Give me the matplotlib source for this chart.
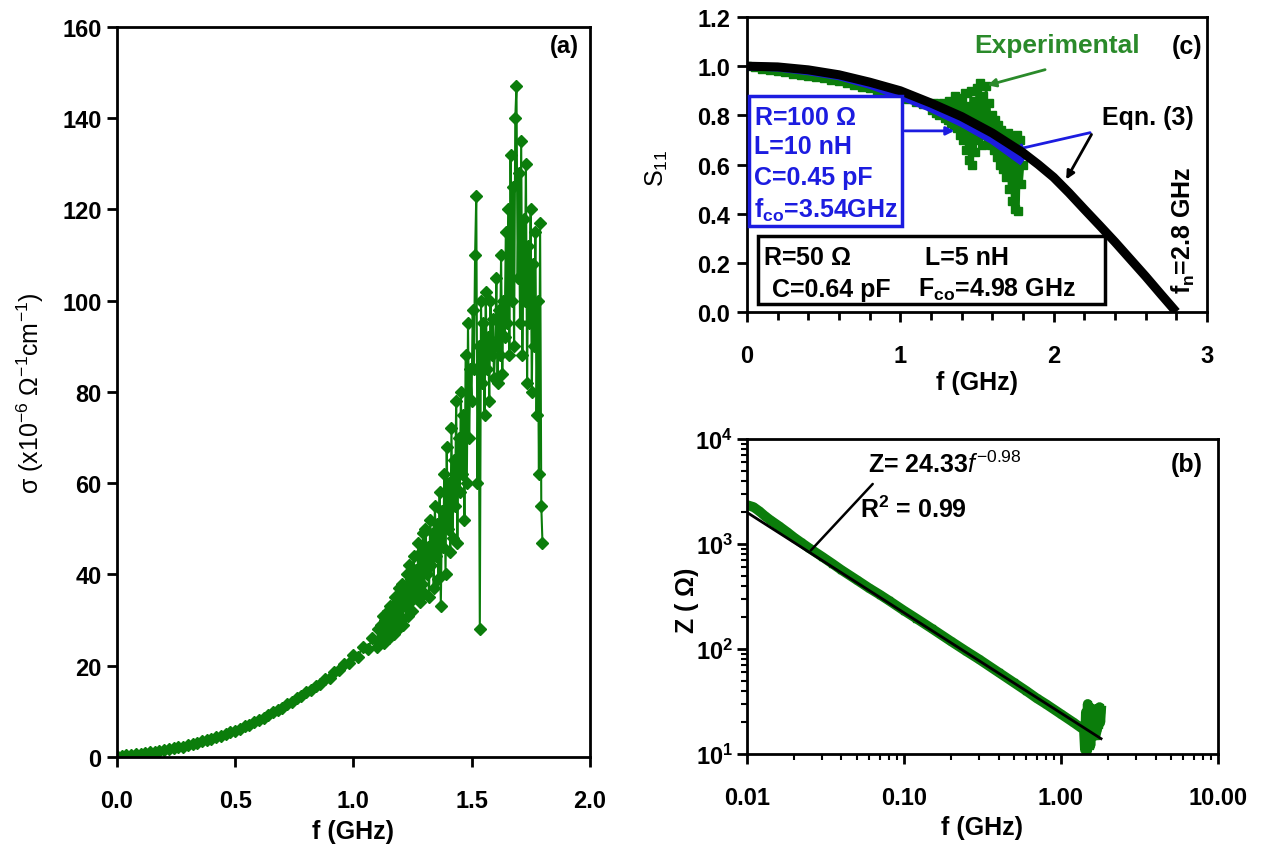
import numpy as np
import matplotlib
matplotlib.use('Agg')
import matplotlib.pyplot as plt
from matplotlib.patches import Rectangle

plt.rcParams['font.family'] = ['Liberation Sans', 'DejaVu Sans']
plt.rcParams['mathtext.fontset'] = 'custom'
plt.rcParams['mathtext.rm'] = 'Liberation Sans'
plt.rcParams['mathtext.it'] = 'Liberation Sans:italic'
plt.rcParams['mathtext.bf'] = 'Liberation Sans:bold'
plt.rcParams['mathtext.default'] = 'regular'

# ---- (a) conductivity vs frequency ----
# smooth part, 0.00-1.08 GHz (0.02 GHz grid)
sig_lo = [0.3, 0.3, 0.4, 0.5, 0.6, 0.7, 0.8, 1.0, 1.1, 1.3,
          1.5, 1.7, 1.9, 2.1, 2.3, 2.6, 2.8, 3.1, 3.4, 3.7,
          4.0, 4.3, 4.7, 5.0, 5.4, 5.8, 6.2, 6.7, 7.1, 7.6,
          8.1, 8.6, 9.2, 9.8, 10.3, 10.8, 11.6, 12.0, 12.9, 13.3,
          14.2, 14.6, 15.6, 16.0, 17.1, 17.4, 18.7, 19.0, 20.4, 20.6,
          22.3, 22.0, 24.2, 23.6, 26.0]
# noisy part, 1.100-1.800 GHz (0.005 GHz grid)
sig_hi = [24, 28, 25, 29, 26, 31, 25, 30, 27, 32,
          26, 33, 28, 31, 27, 35, 29, 34, 28, 37,
          30, 38, 29, 36, 33, 40, 31, 42, 34, 39,
          32, 44, 35, 41, 37, 47, 34, 45, 38, 49,
          36, 50, 40, 46, 35, 52, 42, 49, 37, 55,
          44, 51, 39, 58, 33, 54, 46, 62, 40, 68,
          50, 60, 45, 72, 48, 65, 55, 78, 47, 70,
          58, 80, 62, 75, 52, 88, 60, 95, 70, 85,
          78, 98, 85, 110, 123, 60, 90, 28, 100, 82,
          95, 75, 102, 85, 92, 78, 100, 88, 96, 83,
          90, 105, 82, 98, 88, 110, 84, 100, 92, 115,
          95, 120, 88, 132, 100, 125, 90, 140, 147, 105,
          128, 95, 135, 88, 118, 100, 130, 82, 112, 95,
          120, 80, 108, 90, 115, 75, 100, 62, 117, 55,
          47]
f_a = np.concatenate([np.linspace(0, 1.08, len(sig_lo)),
                      np.linspace(1.10, 1.80, len(sig_hi))])
sig_a = np.array(sig_lo + sig_hi)

# ---- (c) S11 ----
s11_lo = [1.00, 0.995, 0.99, 0.985, 0.98, 0.975, 0.97, 0.965, 0.96, 0.955,
          0.95, 0.945, 0.94, 0.93, 0.925, 0.915, 0.91, 0.90, 0.89, 0.88,
          0.87, 0.865, 0.855, 0.845]
s11_hi = [0.84, 0.82, 0.85, 0.81, 0.84, 0.80, 0.83, 0.81, 0.85, 0.79,
          0.83, 0.78, 0.86, 0.77, 0.84, 0.76, 0.88, 0.75, 0.85, 0.72,
          0.87, 0.70, 0.89, 0.66, 0.84, 0.62, 0.90, 0.60, 0.86, 0.65,
          0.91, 0.70, 0.93, 0.68, 0.88, 0.72, 0.92, 0.70, 0.85, 0.68,
          0.80, 0.66, 0.78, 0.63, 0.76, 0.60, 0.74, 0.58, 0.72, 0.55,
          0.73, 0.50, 0.70, 0.45, 0.68, 0.42, 0.72, 0.41, 0.70, 0.52,
          0.60]
f_c = np.concatenate([np.linspace(0, 1.15, len(s11_lo)),
                      np.linspace(1.20, 1.80, len(s11_hi))])
s11_exp = np.array(s11_lo + s11_hi)

f_eq = [0, 0.2, 0.4, 0.6, 0.8, 1.0, 1.2, 1.4, 1.6, 1.8, 1.9, 2.0, 2.1,
        2.2, 2.3, 2.4, 2.5, 2.6, 2.7, 2.8]
s11_eq = [1.0, 0.997, 0.985, 0.965, 0.935, 0.90, 0.85, 0.795, 0.728, 0.648,
          0.600, 0.548, 0.485, 0.418, 0.352, 0.285, 0.215, 0.145, 0.072, 0.0]
f_fit = [0, 0.2, 0.4, 0.6, 0.8, 1.0, 1.2, 1.4, 1.6, 1.8]
s11_fit = [1.0, 0.995, 0.98, 0.96, 0.925, 0.88, 0.83, 0.77, 0.70, 0.61]

# ---- (b) impedance ----
f_b = [0.010, 0.011, 0.012, 0.013, 0.014, 0.016, 0.018, 0.020, 0.022, 0.025,
       0.030, 0.035, 0.040, 0.050, 0.060, 0.070, 0.080, 0.10, 0.12, 0.15,
       0.20, 0.25, 0.30, 0.40, 0.50, 0.60, 0.70, 0.80, 1.00, 1.20, 1.40,
       1.42, 1.44, 1.46, 1.48, 1.50, 1.52, 1.54, 1.56, 1.58, 1.60,
       1.62, 1.64, 1.66, 1.68, 1.70, 1.72, 1.74, 1.76, 1.78, 1.80]
z_b = [2350, 2250, 2050, 1850, 1700, 1480, 1300, 1150, 1040, 910,
       760, 650, 565, 455, 380, 330, 290, 232, 195, 157,
       118, 95, 80, 60, 48, 40, 34, 30, 24, 20, 17,
       11, 25, 10.5, 30, 14, 28, 12, 22, 16, 26,
       18, 24, 15, 27, 17, 25, 19, 28, 20, 26]
f_zfit = [0.01, 1.8]
z_zfit = [2000, 14]

green = '#0b7d0b'
blue = '#1c1ce0'
FS = 18


def style_axes(ax, tick_fs):
    ax.tick_params(which='major', direction='out', length=7, width=2,
                   labelsize=tick_fs)
    ax.tick_params(axis='x', which='major', pad=16)
    ax.tick_params(axis='y', which='major', pad=5)
    for t in ax.get_xticklabels() + ax.get_yticklabels():
        t.set_fontweight('bold')
    for s in ax.spines.values():
        s.set_linewidth(2)


def place_labels(ax, xl, yl):
    ax.xaxis.set_label_coords(*xl)
    ax.yaxis.set_label_coords(*yl)
    ax.xaxis.label.set_verticalalignment('center')
    ax.yaxis.label.set_verticalalignment('center')


fig = plt.figure(figsize=(12.71, 8.54), dpi=100)

# ---------------- panel (a)
ax = fig.add_axes([0.092, 0.1124, 0.372, 0.855])
ax.plot(f_a, sig_a, color=green, lw=1.5, marker='D', ms=6.5)
ax.set_xlim(0, 2.0)
ax.set_ylim(0, 160)
ax.set_xticks([0, 0.5, 1.0, 1.5, 2.0])
ax.set_xticklabels(['0.0', '0.5', '1.0', '1.5', '2.0'])
ax.set_yticks(range(0, 161, 20))
style_axes(ax, 17)
ax.tick_params(axis='y', which='major', pad=4)
ax.set_xlabel('f (GHz)', fontsize=FS, fontweight='bold')
ax.set_ylabel(r'$\sigma$ (x10$^{-6}$ $\Omega^{-1}$cm$^{-1}$)', fontsize=FS)
place_labels(ax, (0.5, -0.1014), (-0.184, 0.5))
ax.text(0.947, 0.974, '(a)', transform=ax.transAxes, fontsize=17,
        fontweight='bold', ha='center', va='center')

# ---------------- panel (c)
ax = fig.add_axes([0.5877, 0.6335, 0.3619, 0.3454])
ax.plot(f_c, s11_exp, color=green, lw=2, marker='s', ms=6, zorder=2)
ax.plot(f_fit, s11_fit, color=blue, lw=6, zorder=3, solid_capstyle='butt')
ax.plot(f_eq, s11_eq, color='black', lw=6.5, zorder=4, solid_capstyle='butt')
ax.set_xlim(0, 3)
ax.set_ylim(0, 1.2)
ax.set_xticks([0, 1, 2, 3])
ax.set_xticks(np.arange(0, 3.01, 0.2), minor=True)
ax.set_yticks(np.arange(0, 1.21, 0.2))
ax.set_yticklabels(['0.0', '0.2', '0.4', '0.6', '0.8', '1.0', '1.2'])
style_axes(ax, 17)
ax.tick_params(which='minor', direction='out', length=6, width=2)
ax.set_xlabel('f (GHz)', fontsize=FS, fontweight='bold')
ax.set_ylabel('S$_{11}$', fontsize=FS)
place_labels(ax, (0.5, -0.237), (-0.196, 0.49))

ax.text(0.957, 0.902, '(c)', transform=ax.transAxes, fontsize=FS,
        fontweight='bold', ha='center', va='center')
ax.text(0.675, 0.905, 'Experimental', transform=ax.transAxes, fontsize=19,
        fontweight='bold', color='#2a8a2a', ha='center', va='center')
ax.annotate('', xy=(0.517, 0.766), xytext=(0.654, 0.824),
            xycoords='axes fraction', textcoords='axes fraction',
            arrowprops=dict(arrowstyle='-|>', color='#2a8a2a', lw=2,
                            mutation_scale=12))
ax.text(0.772, 0.661, 'Eqn. (3)', transform=ax.transAxes, fontsize=FS,
        fontweight='bold', ha='left', va='center')
ax.annotate('', xy=(0.572, 0.546), xytext=(0.752, 0.61),
            xycoords='axes fraction', textcoords='axes fraction',
            arrowprops=dict(arrowstyle='-|>', color=blue, lw=2,
                            mutation_scale=12))
ax.annotate('', xy=(0.691, 0.441), xytext=(0.752, 0.61),
            xycoords='axes fraction', textcoords='axes fraction',
            arrowprops=dict(arrowstyle='-|>', color='black', lw=2,
                            mutation_scale=12))

# blue parameter box
ax.add_patch(Rectangle((0.004, 0.292), 0.333, 0.44, transform=ax.transAxes,
                       fill=True, facecolor='white', edgecolor=blue, lw=2.5,
                       zorder=5))
for yy, s in zip([0.661, 0.563, 0.457, 0.349],
                 [r'R=100 $\Omega$', 'L=10 nH', 'C=0.45 pF',
                  'f$_{co}$=3.54GHz']):
    ax.text(0.015, yy, s, transform=ax.transAxes, fontsize=FS,
            fontweight='bold', color=blue, ha='left', va='center', zorder=6)
ax.annotate('', xy=(0.457, 0.614), xytext=(0.337, 0.614),
            xycoords='axes fraction', textcoords='axes fraction',
            arrowprops=dict(arrowstyle='-|>', color=blue, lw=2,
                            mutation_scale=12), zorder=6)

# black parameter box
ax.add_patch(Rectangle((0.024, 0.027), 0.754, 0.231, transform=ax.transAxes,
                       fill=True, facecolor='white', edgecolor='black', lw=2.5,
                       zorder=5))
ax.text(0.035, 0.186, r'R=50 $\Omega$', transform=ax.transAxes, fontsize=FS,
        fontweight='bold', ha='left', va='center', zorder=6)
ax.text(0.387, 0.186, 'L=5 nH', transform=ax.transAxes, fontsize=FS,
        fontweight='bold', ha='left', va='center', zorder=6)
ax.text(0.054, 0.078, 'C=0.64 pF', transform=ax.transAxes, fontsize=FS,
        fontweight='bold', ha='left', va='center', zorder=6)
ax.text(0.372, 0.078, 'F$_{co}$=4.98 GHz', transform=ax.transAxes,
        fontsize=FS, fontweight='bold', ha='left', va='center', zorder=6)
ax.text(0.948, 0.281, 'f$_n$=2.8 GHz', transform=ax.transAxes, fontsize=FS,
        fontweight='bold', rotation=90, ha='center', va='center')

# ---------------- panel (b)
ax = fig.add_axes([0.5877, 0.1159, 0.3706, 0.3689])
ax.plot(f_b, z_b, color=green, lw=7, marker='s', ms=5, zorder=2)
ax.plot(f_zfit, z_zfit, color='black', lw=2, zorder=3)
ax.set_xscale('log')
ax.set_yscale('log')
ax.set_xlim(0.01, 10)
ax.set_ylim(10, 10000)
ax.set_xticks([0.01, 0.1, 1, 10])
ax.set_xticklabels(['0.01', '0.10', '1.00', '10.00'])
ax.set_yticks([10, 100, 1000, 10000])
ax.set_yticklabels(['10$^1$', '10$^2$', '10$^3$', '10$^4$'])
style_axes(ax, 17)
ax.tick_params(axis='y', which='major', pad=3)
ax.tick_params(which='minor', direction='out', length=4, width=1.5)
ax.set_xlabel('f (GHz)', fontsize=FS, fontweight='bold')
ax.set_ylabel(r'Z ( $\Omega$)', fontsize=FS, fontweight='bold')
place_labels(ax, (0.5, -0.232), (-0.128, 0.49))
ax.text(0.934, 0.92, '(b)', transform=ax.transAxes, fontsize=FS,
        fontweight='bold', ha='center', va='center')
ax.text(0.257, 0.921, r'Z= 24.33$\it{f}^{-0.98}$', transform=ax.transAxes,
        fontsize=FS, fontweight='bold', ha='left', va='center')
ax.text(0.24, 0.778, 'R$^2$ = 0.99', transform=ax.transAxes,
        fontsize=FS, fontweight='bold', ha='left', va='center')
ax.annotate('', xy=(0.0248, 830), xytext=(0.065, 3900),
            arrowprops=dict(arrowstyle='-', color='black', lw=1.8))

fig.savefig('out.png', dpi=100)
